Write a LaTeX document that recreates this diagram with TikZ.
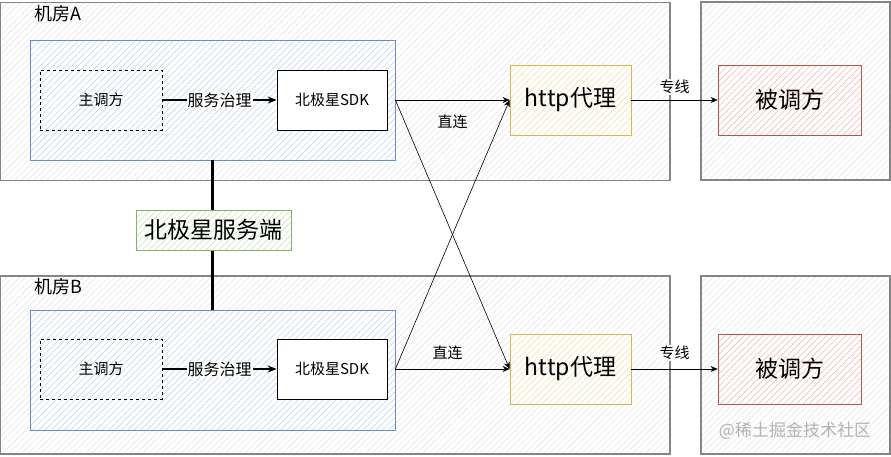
\documentclass[tikz,border=0pt]{standalone}
\usepackage{fontspec}
\setmainfont{Noto Sans CJK SC}
\usetikzlibrary{arrows.meta,patterns.meta}

\definecolor{roomline}{HTML}{858585}
\definecolor{roomhatch}{HTML}{E4E4E4}
\definecolor{blueline}{HTML}{6C8EBF}
\definecolor{bluehatch}{HTML}{B9CFEE}
\definecolor{yelline}{HTML}{D6B656}
\definecolor{yelhatch}{HTML}{F2DE9C}
\definecolor{redline}{HTML}{B85450}
\definecolor{redhatch}{HTML}{EEB0AE}
\definecolor{greenline}{HTML}{82B366}
\definecolor{greenhatch}{HTML}{C2DDBA}

\tikzset{
  hatch/.style={preaction={fill=white}, pattern={Lines[angle=45,distance=4.5pt,line width=0.5pt]}, pattern color=#1},
  room/.style={draw=roomline, line width=1.3pt, hatch=roomhatch,
    minimum width=#1, minimum height=178pt, inner sep=0pt},
  zone/.style={draw=blueline, line width=0.8pt, hatch=bluehatch,
    minimum width=365pt, minimum height=120pt},
  caller/.style={draw, dashed, line width=0.6pt, minimum width=122pt, minimum height=60pt,
    font=\fontsize{15}{18}\selectfont},
  sdkbox/.style={draw, fill=white, line width=0.6pt, minimum width=110pt, minimum height=60pt,
    font=\fontsize{15}{18}\selectfont},
  proxy/.style={draw=yelline, line width=0.8pt, hatch=yelhatch,
    minimum width=121pt, minimum height=70pt, font=\fontsize{23}{26}\selectfont},
  callee/.style={draw=redline, line width=0.8pt, hatch=redhatch,
    minimum width=143pt, minimum height=70pt, font=\fontsize{23}{26}\selectfont},
  conn/.style={-{Stealth[length=7pt,width=6pt]}, line width=0.6pt},
  govern/.style={-{Stealth[length=9pt,width=7pt]}, line width=1.4pt},
  small/.style={font=\fontsize{15}{18}\selectfont}
}

\begin{document}
\begin{tikzpicture}[x=1pt, y=-1pt]
  \useasboundingbox (0,0) rectangle (891,456);

  % rooms
  \node[room=670pt] (roomA) at (335,91.5) {};
  \node[room=189pt] (farA) at (795.5,91) {};
  \node[room=670pt] (roomB) at (335,365) {};
  \node[room=189pt] (farB) at (795.5,365) {};
  \node[anchor=west, font=\fontsize{18}{21}\selectfont] (labA) at (31,14) {机房A};
  \node[anchor=west, font=\fontsize{18}{21}\selectfont] (labB) at (31,287) {机房B};

  \node[zone] (blueA) at (212.5,100) {};
  \node[zone] (blueB) at (212.5,370) {};

  \node[caller] (dashA) at (101,100) {主调方};
  \node[sdkbox] (sdkA) at (332,100) {北极星SDK};
  \node[caller] (dashB) at (101,369) {主调方};
  \node[sdkbox] (sdkB) at (332,369) {北极星SDK};

  \node[proxy] (httpA) at (570.5,100) {http代理};
  \node[proxy] (httpB) at (570.5,369) {http代理};
  \node[callee] (calleeA) at (789.5,100) {被调方};
  \node[callee] (calleeB) at (789.5,369) {被调方};

  % polaris server
  \draw[line width=2.4pt] (blueA.south) -- (blueB.north);
  \node[draw=greenline, line width=0.8pt, hatch=greenhatch,
    minimum width=155pt, minimum height=40pt, font=\fontsize{23}{26}\selectfont]
    (server) at (213.5,230) {北极星服务端};

  \draw[govern] (dashA) -- node[fill=white, inner sep=1pt, font=\fontsize{16}{19}\selectfont] {服务治理} (sdkA);
  \draw[govern] (dashB) -- node[fill=white, inner sep=1pt, font=\fontsize{16}{19}\selectfont] {服务治理} (sdkB);

  \coordinate (outA) at (blueA.east |- sdkA.center);
  \coordinate (outB) at (blueB.east |- sdkB.center);
  \draw[conn] (outA) -- node[midway, yshift=-22pt, small] {直连} (httpA.west);
  \draw[conn] (outB) -- node[midway, yshift=16pt, xshift=-5pt, small] {直连} (httpB.west);
  \draw[conn] (outA) -- (httpB.west);
  \draw[conn] (outB) -- (httpA.west);

  \draw[conn] (httpA) -- node[midway, yshift=13pt, fill=white, inner sep=1pt, small] {专线} (calleeA);
  \draw[conn] (httpB) -- node[midway, yshift=16pt, fill=white, inner sep=1pt, small] {专线} (calleeB);

  \node[text=black!30, font=\fontsize{17}{20}\selectfont] (mark) at (795,431) {@稀土掘金技术社区};
\end{tikzpicture}
\end{document}
